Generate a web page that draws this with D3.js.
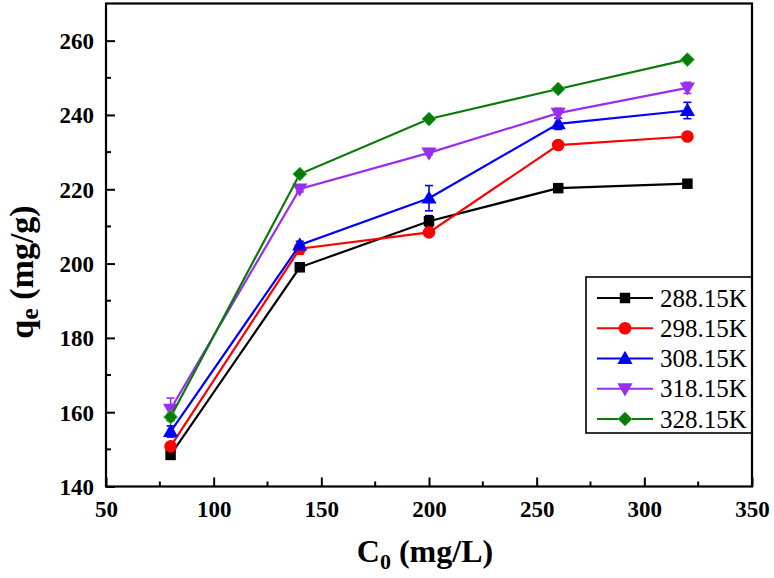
<!DOCTYPE html>
<html>
<head>
<meta charset="utf-8">
<script src="https://cdn.jsdelivr.net/npm/d3@7/dist/d3.min.js"></script>
<style>
  html, body { margin: 0; padding: 0; background: #fff; }
  svg { display: block; }
</style>
</head>
<body>
<svg id="chart" width="774" height="578"></svg>
<script>
// ---- data ----
const concentrations = [80, 140, 200, 260, 320];
const seriesNames = ["288.15K", "298.15K", "308.15K", "318.15K", "328.15K"];
const q288 = [148.5, 199.0, 211.4, 220.3, 221.5];
const q298 = [150.8, 204.0, 208.4, 231.9, 234.2];
const q308 = [154.8, 205.0, 217.6, 237.6, 241.2];
const q318 = [160.8, 220.1, 229.8, 240.5, 247.3];
const q328 = [158.7, 224.1, 238.9, 247.0, 254.9];
const err288 = [1.0, 1.0, 1.5, 0.5, 0.5];
const err298 = [1.0, 1.5, 1.0, 0.5, 0.5];
const err308 = [1.5, 1.0, 3.4, 1.5, 2.2];
const err318 = [3.0, 0.8, 0.5, 1.3, 1.5];
const err328 = [1.0, 0.5, 0.5, 0.5, 0.5];
const xTicks = [50, 100, 150, 200, 250, 300, 350];
const yTicks = [140, 160, 180, 200, 220, 240, 260];

const colors = ["#000000", "#ff0000", "#0000ff", "#9a2ef0", "#0a7a0a"];
const shapes = ["square", "circle", "up", "down", "diamond"];
const series = seriesNames.map((name, i) => ({
  name,
  values: [q288, q298, q308, q318, q328][i],
  errs: [err288, err298, err308, err318, err328][i],
  color: colors[i],
  shape: shapes[i]
}));

// ---- layout ----
const svg = d3.select("#chart");
const L = 106, R = 752, T = 3.5, B = 486.5;
const x = d3.scaleLinear().domain([50, 350]).range([L, R]);
const y = d3.scaleLinear().domain([140, 270]).range([B, T]);
const serif = "'Liberation Serif', 'Times New Roman', Times, serif";

function markerPath(shape) {
  switch (shape) {
    case "square": return d3.symbol().type(d3.symbolSquare).size(110)();
    case "circle": return d3.symbol().type(d3.symbolCircle).size(125)();
    case "up":
    case "down": return d3.symbol().type(d3.symbolTriangle).size(100)();
    default: return d3.symbol().type(d3.symbolSquare).size(95)();
  }
}
function markerTransform(shape, cx, cy) {
  if (shape === "down") return `translate(${cx},${cy - 1}) rotate(180)`;
  if (shape === "up") return `translate(${cx},${cy + 1})`;
  if (shape === "diamond") return `translate(${cx},${cy}) rotate(45)`;
  return `translate(${cx},${cy})`;
}
function drawMarker(g, s, cx, cy) {
  g.append("path").attr("d", markerPath(s.shape))
    .attr("transform", markerTransform(s.shape, cx, cy))
    .attr("fill", s.color)
    .attr("stroke", s.shape === "diamond" ? "#2fbf2f" : "none")
    .attr("stroke-width", 0.9);
}

// ---- series ----
const line = d3.line().x((d, i) => x(concentrations[i])).y(d => y(d));
const gData = svg.append("g");
series.forEach(s => {
  const g = gData.append("g");
  g.append("path").attr("d", line(s.values)).attr("fill", "none")
    .attr("stroke", s.color).attr("stroke-width", 2.2);
  s.values.forEach((v, i) => {
    const cx = x(concentrations[i]);
    const y1 = y(v + s.errs[i]), y2 = y(v - s.errs[i]);
    g.append("line").attr("x1", cx).attr("x2", cx).attr("y1", y1).attr("y2", y2)
      .attr("stroke", s.color).attr("stroke-width", 1.6);
    [y1, y2].forEach(yy => g.append("line").attr("x1", cx - 4).attr("x2", cx + 4)
      .attr("y1", yy).attr("y2", yy).attr("stroke", s.color).attr("stroke-width", 1.6));
  });
  s.values.forEach((v, i) => drawMarker(g, s, x(concentrations[i]), y(v)));
});

// ---- axes ----
const axisG = svg.append("g");
const xAxis = d3.axisBottom(x).tickValues(xTicks).tickSize(-9).tickPadding(14).tickFormat(d3.format("d"));
const yAxis = d3.axisLeft(y).tickValues(yTicks).tickSize(-9).tickPadding(12).tickFormat(d3.format("d"));
const gx = axisG.append("g").attr("transform", `translate(0,${B})`).call(xAxis);
const gy = axisG.append("g").attr("transform", `translate(${L},0)`).call(yAxis);
[gx, gy].forEach(g => {
  g.select(".domain").remove();
  g.selectAll(".tick line").attr("stroke", "#000").attr("stroke-width", 2);
  g.selectAll(".tick text").attr("font-family", serif).attr("font-weight", "bold")
    .attr("font-size", 23).attr("fill", "#000");
});
gx.selectAll(".tick text").attr("dy", "0.71em");
gy.selectAll(".tick text").attr("dy", "0.34em");
const xMinor = d3.range(75, 350, 50);
const yMinor = d3.range(150, 270, 20);
axisG.selectAll(".xminor").data(xMinor).join("line")
  .attr("x1", d => x(d)).attr("x2", d => x(d)).attr("y1", B).attr("y2", B - 5)
  .attr("stroke", "#000").attr("stroke-width", 2);
axisG.selectAll(".yminor").data(yMinor).join("line")
  .attr("x1", L).attr("x2", L + 5).attr("y1", d => y(d)).attr("y2", d => y(d))
  .attr("stroke", "#000").attr("stroke-width", 2);
axisG.append("rect").attr("x", L).attr("y", T).attr("width", R - L).attr("height", B - T)
  .attr("fill", "none").attr("stroke", "#000").attr("stroke-width", 2.2);

// ---- axis titles ----
const xt = svg.append("text").attr("x", 425).attr("y", 562).attr("text-anchor", "middle")
  .attr("font-family", serif).attr("font-weight", "bold").attr("font-size", 32).attr("fill", "#000");
xt.append("tspan").text("C");
xt.append("tspan").attr("font-size", 22).attr("dy", 7).text("0");
xt.append("tspan").attr("dy", -7).text(" (mg/L)");

const yt = svg.append("text").attr("transform", "translate(33,272) rotate(-90)")
  .attr("text-anchor", "middle").attr("font-family", serif).attr("font-weight", "bold")
  .attr("font-size", 34).attr("fill", "#000");
yt.append("tspan").text("q");
yt.append("tspan").attr("font-size", 26).attr("dy", 5).text("e");
yt.append("tspan").attr("dy", -5).text(" (mg/g)");

// ---- legend ----
const lg = svg.append("g");
lg.append("rect").attr("x", 586).attr("y", 277).attr("width", 752 - 586).attr("height", 433 - 277)
  .attr("fill", "#fff").attr("stroke", "#000").attr("stroke-width", 1.6);
series.forEach((s, i) => {
  const ry = 298 + i * 30.25;
  lg.append("line").attr("x1", 597).attr("x2", 653).attr("y1", ry).attr("y2", ry)
    .attr("stroke", s.color).attr("stroke-width", 2.2);
  drawMarker(lg, s, 625, ry);
  lg.append("text").attr("x", 660).attr("y", ry + 8.5).attr("font-family", serif)
    .attr("font-size", 25).attr("fill", "#000").text(s.name);
});
axisG.raise();
</script>
</body>
</html>
